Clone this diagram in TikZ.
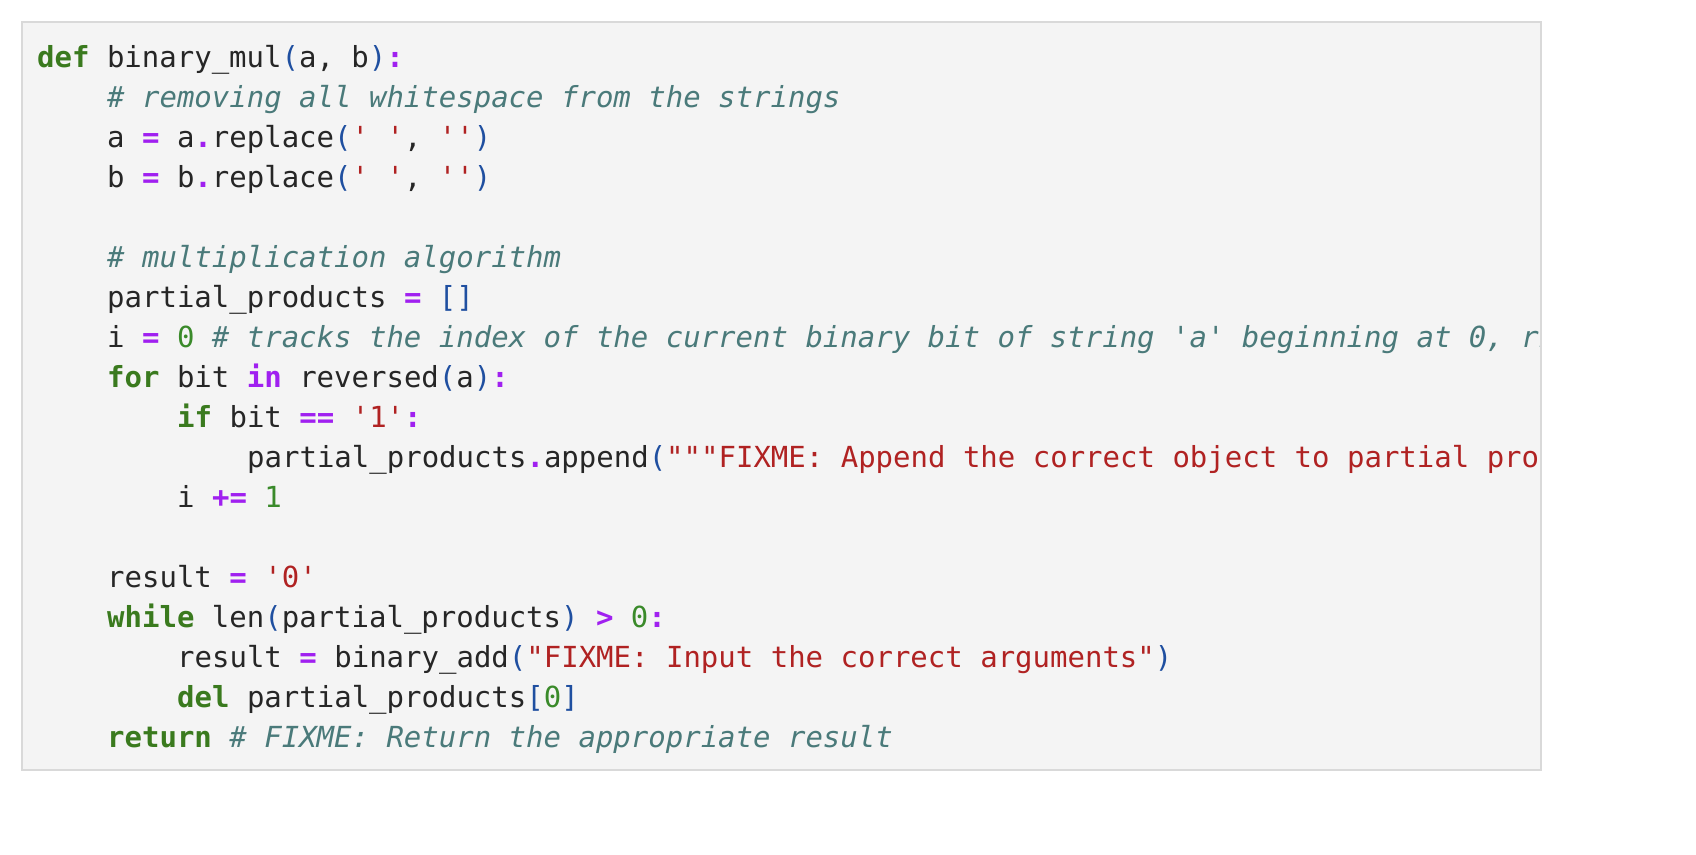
\documentclass[tikz,border=0pt]{standalone}
\usepackage{fontspec}
\setmonofont{DejaVu Sans Mono}
\definecolor{kwc}{HTML}{3A7A1E}
\definecolor{opc}{HTML}{A020F0}
\definecolor{brc}{HTML}{1F4FA0}
\definecolor{stc}{HTML}{B02222}
\definecolor{nmc}{HTML}{3A8A2A}
\definecolor{cmc}{HTML}{4A7A7A}
\newcommand{\kwd}[1]{{\color{kwc}\bfseries #1}}
\newcommand{\opr}[1]{{\color{opc}\bfseries #1}}
\newcommand{\brk}[1]{{\color{brc}#1}}
\newcommand{\strg}[1]{{\color{stc}#1}}
\newcommand{\numb}[1]{{\color{nmc}#1}}
\newcommand{\cmt}[1]{{\color{cmc}\itshape #1}}
\begin{document}
\begin{tikzpicture}[x=1pt,y=-1pt,
  codeline/.style={anchor=base west,inner sep=0pt,font=\fontsize{29}{34}\selectfont\ttfamily,text=black!85}]
\useasboundingbox (0,0) rectangle (1696,854);
\fill[white] (0,0) rectangle (1696,854);
\fill[black!4.5] (22,22) rectangle (1541,770);
\begin{scope}
\clip (22,22) rectangle (1541,770);
\def\cw{17.5}
\newcommand{\cl}[3]{\node[codeline] (l#1) at (37+#2*\cw,{67+40*(#1)}) {#3};}
\cl{0}{0}{\kwd{def} binary\_mul\brk{(}a, b\brk{)}\opr{:}}
\cl{1}{4}{\cmt{\# removing all whitespace from the strings}}
\cl{2}{4}{a \opr{=} a\opr{.}replace\brk{(}\strg{' '}, \strg{''}\brk{)}}
\cl{3}{4}{b \opr{=} b\opr{.}replace\brk{(}\strg{' '}, \strg{''}\brk{)}}
\cl{5}{4}{\cmt{\# multiplication algorithm}}
\cl{6}{4}{partial\_products \opr{=} \brk{[]}}
\cl{7}{4}{i \opr{=} \numb{0} \cmt{\# tracks the index of the current binary bit of string 'a' beginning at 0, right to left}}
\cl{8}{4}{\kwd{for} bit \opr{in} reversed\brk{(}a\brk{)}\opr{:}}
\cl{9}{8}{\kwd{if} bit \opr{==} \strg{'1'}\opr{:}}
\cl{10}{12}{partial\_products\opr{.}append\brk{(}\strg{"""FIXME: Append the correct object to partial products"""}\brk{)}}
\cl{11}{8}{i \opr{+=} \numb{1}}
\cl{13}{4}{result \opr{=} \strg{'0'}}
\cl{14}{4}{\kwd{while} len\brk{(}partial\_products\brk{)} \opr{>} \numb{0}\opr{:}}
\cl{15}{8}{result \opr{=} binary\_add\brk{(}\strg{"FIXME: Input the correct arguments"}\brk{)}}
\cl{16}{8}{\kwd{del} partial\_products\brk{[}\numb{0}\brk{]}}
\cl{17}{4}{\kwd{return} \cmt{\# FIXME: Return the appropriate result}}
\end{scope}
\draw[black!15,line width=1.5pt] (22,22) rectangle (1541,770);
\end{tikzpicture}
\end{document}
